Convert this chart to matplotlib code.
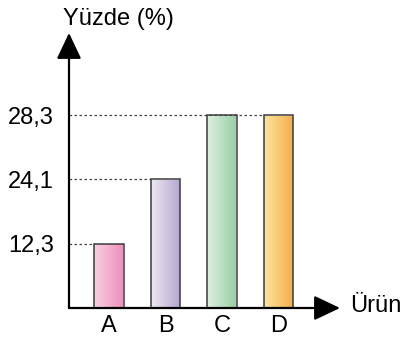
import numpy as np
import matplotlib
matplotlib.use('Agg')
import matplotlib.pyplot as plt
from matplotlib.colors import LinearSegmentedColormap

urunler = ['A', 'B', 'C', 'D']
yuzdeler = [12.3, 24.1, 28.3, 28.3]
etiket_degerleri = [12.3, 24.1, 28.3]
etiketler = ['12,3', '24,1', '28,3']
renk_sol = ['#f8cfe1', '#ece6f1', '#ddefe1', '#fce49e']
renk_sag = ['#ee8dbb', '#b4a5d0', '#96cea4', '#f3ab48']

# the y axis in the picture is schematic: marked values sit at equal steps
kirilim = [0, 12.3, 24.1, 28.3, 40.0]
adim = [0, 1, 2, 3, 3 + (40.0 - 28.3) / 4.2]


def ileri(v):
    return np.interp(v, kirilim, adim)


def geri(u):
    return np.interp(u, adim, kirilim)


plt.rcParams['font.family'] = ['Liberation Sans', 'DejaVu Sans']
plt.rcParams['font.size'] = 17

fig = plt.figure(figsize=(4.02, 3.38), dpi=100)
ax = fig.add_axes([69 / 402, 30 / 338, 271 / 402, 275 / 338])
ax.set_yscale('function', functions=(ileri, geri))

x = np.arange(len(urunler))
w = 0.53
xlim = (-40 / 56.5, 231 / 56.5)
ylim = (0, float(geri(275 / 64.3)))

for i, h in enumerate(yuzdeler):
    kutu = ax.bar(x[i], h, w, facecolor='none', edgecolor='#3a3a3a',
                  linewidth=1.1, zorder=3)[0]
    cmap = LinearSegmentedColormap.from_list('g%d' % i, [renk_sol[i], renk_sag[i]])
    im = ax.imshow(np.linspace(0, 1, 64)[None, :], cmap=cmap, aspect='auto',
                   extent=(x[i] - w / 2, x[i] + w / 2, 0, h), zorder=2,
                   interpolation='bilinear')
    im.set_clip_path(kutu)

# dotted guide lines from the axis to the last bar with each value
for v in etiket_degerleri:
    j = max(k for k, h in enumerate(yuzdeler) if h == v)
    ax.hlines(v, xlim[0], x[j] - w / 2, colors='#444444', linewidth=0.9,
              linestyles=(0, (2, 2)), zorder=1)

ax.set_xlim(*xlim)
ax.set_ylim(*ylim)

ax.set_yticks(etiket_degerleri, etiketler)
ax.set_xticks(x, urunler)
ax.tick_params(axis='y', length=0, pad=11, labelsize=17)
ax.tick_params(axis='x', length=0, pad=5, labelsize=17)
ax.yaxis.set_minor_locator(matplotlib.ticker.NullLocator())
for s in ax.spines.values():
    s.set_visible(False)

ok = dict(arrowstyle='-|>,head_length=0.8,head_width=0.38', color='black',
          linewidth=1.6, mutation_scale=20, shrinkA=0, shrinkB=0)
ax.annotate('', xy=(0, 1), xytext=(0, 0), xycoords='axes fraction', arrowprops=ok)
ax.annotate('', xy=(1, 0), xytext=(0, 0), xycoords='axes fraction', arrowprops=ok)

fig.text(63 / 402, 1 - 19 / 338, 'Yüzde (%)', ha='left', va='center')
fig.text(350 / 402, 1 - 306 / 338, 'Ürün', ha='left', va='center')

fig.savefig('out.png', dpi=100)
